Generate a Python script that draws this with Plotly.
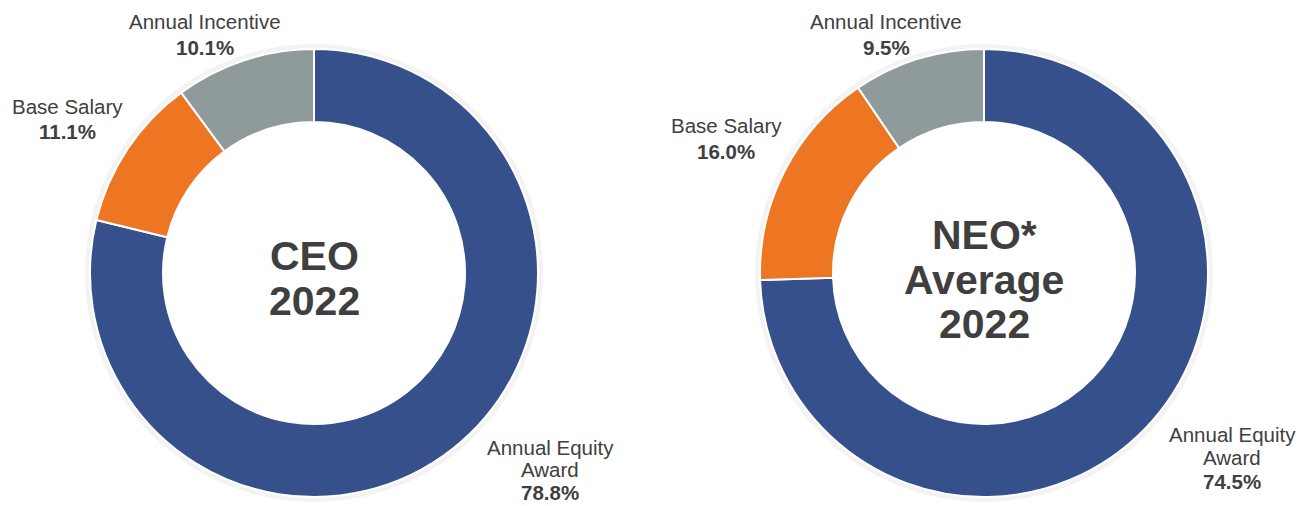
import plotly.graph_objects as go

W, H = 1299, 506

categories = ["Annual Equity Award", "Base Salary", "Annual Incentive"]
ceo_values = [78.8, 11.1, 10.1]
neo_values = [74.5, 16.0, 9.5]
colors = ["#36508C", "#EE7623", "#8E9B9A"]

ceo_title = ["CEO", "2022"]
neo_title = ["NEO*", "Average", "2022"]

label_lines = {
    "Annual Equity Award": ["Annual Equity", "Award"],
    "Base Salary": ["Base Salary"],
    "Annual Incentive": ["Annual Incentive"],
}

FONT = "Liberation Sans, Arial, sans-serif"

# layout geometry (page pixels)
R = 224
centers = [(314, 273), (984, 273)]


def dom(cx, cy, r):
    y0 = max(0.0, (H - (cy + r)) / H)
    y1 = min(1.0, (H - (cy - r)) / H)
    return dict(x=[(cx - r) / W, (cx + r) / W], y=[y0, y1])


def px(x, y):
    return x / W, 1 - y / H


fig = go.Figure()

for (cx, cy), vals in zip(centers, [ceo_values, neo_values]):
    # faint shadow ring
    fig.add_trace(go.Pie(
        values=[1], labels=["ring"], domain=dom(cx, cy, R + 5), hole=(R - 4) / (R + 5),
        marker=dict(colors=["#F3F3F3"], line=dict(width=0)), textinfo="none",
        hoverinfo="skip", showlegend=False, sort=False))
    fig.add_trace(go.Pie(
        values=vals, labels=categories, domain=dom(cx, cy, R), hole=151 / R,
        sort=False, direction="clockwise", rotation=0,
        marker=dict(colors=colors, line=dict(color="white", width=2)),
        textinfo="none", showlegend=False))

# (x center, y of first line cap-middle, line spacing)
label_pos = [
    {"Annual Incentive": (205, 21, 25), "Base Salary": (67, 105, 25), "Annual Equity Award": (550, 446, 22.5)},
    {"Annual Incentive": (886, 21, 25), "Base Salary": (726, 124, 26), "Annual Equity Award": (1232, 433, 23.5)},
]

for vals, pos in zip([ceo_values, neo_values], label_pos):
    for cat, v in zip(categories, vals):
        x0, y0, dy = pos[cat]
        lines = [(t, False) for t in label_lines[cat]] + [(f"{v:.1f}%", True)]
        for i, (t, bold) in enumerate(lines):
            x, y = px(x0, y0 + i * dy + 1)
            fig.add_annotation(
                x=x, y=y, xref="paper", yref="paper", xanchor="center", yanchor="middle",
                text=f"<b>{t}</b>" if bold else t, showarrow=False,
                font=dict(family=FONT, size=20.5, color="#404040"))

center_lines_y = [[255, 300], [234, 279, 323]]
for (cx, cy), title, ys in zip(centers, [ceo_title, neo_title], center_lines_y):
    for t, yy in zip(title, ys):
        x, y = px(cx, yy + 1)
        fig.add_annotation(
            x=x, y=y, xref="paper", yref="paper", xanchor="center", yanchor="middle",
            text=f"<b>{t}</b>", showarrow=False,
            font=dict(family=FONT, size=41, color="#3F3F3F"))

fig.update_layout(
    width=W, height=H, margin=dict(l=0, r=0, t=0, b=0),
    paper_bgcolor="white", plot_bgcolor="white", showlegend=False)

fig.write_html(
    "out.html",
    config={"displayModeBar": False},
    post_script="document.body.style.margin='0';document.body.style.overflow='hidden';")
